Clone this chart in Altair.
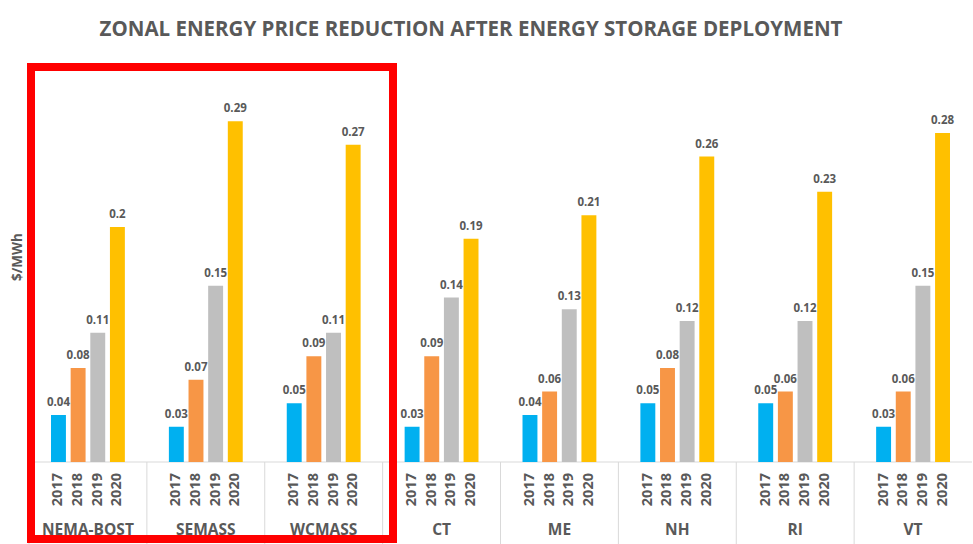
import altair as alt
import pandas as pd

zones = ["NEMA-BOST", "SEMASS", "WCMASS", "CT", "ME", "NH", "RI", "VT"]
years = ["2017", "2018", "2019", "2020"]
v2017 = [0.04, 0.03, 0.05, 0.03, 0.04, 0.05, 0.05, 0.03]
v2018 = [0.08, 0.07, 0.09, 0.09, 0.06, 0.08, 0.06, 0.06]
v2019 = [0.11, 0.15, 0.11, 0.14, 0.13, 0.12, 0.12, 0.15]
v2020 = [0.2, 0.29, 0.27, 0.19, 0.21, 0.26, 0.23, 0.28]
year_colors = ["#00B0F0", "#F79646", "#BFBFBF", "#FFC000"]

title_text = "ZONAL ENERGY PRICE REDUCTION AFTER ENERGY STORAGE DEPLOYMENT"
y_title = "$/MWh"

# each zone gets six slots: a margin slot, the four years, a margin slot
slots = ["L"] + years + ["R"]
slot_domain = [f"{z}|{s}" for z in zones for s in slots]

series = dict(zip(years, [v2017, v2018, v2019, v2020]))
rows = []
for yr in years:
    for z, v in zip(zones, series[yr]):
        rows.append({"zone": z, "year": yr, "amount": v, "slot": f"{z}|{yr}"})
df = pd.DataFrame(rows)
zone_df = pd.DataFrame({
    "zone": zones,
    "edge": [f"{z}|L" for z in zones],
    "mid": [f"{z}|{years[2]}" for z in zones],
})
one = pd.DataFrame({"k": [0]})

W, H = 943, 376
GRAY = "#595959"
FONT = "Open Sans"

x_scale = alt.Scale(domain=slot_domain, paddingInner=0, paddingOuter=0)
y_enc = alt.Y("amount:Q", axis=None, scale=alt.Scale(domain=[0, 0.32]))
x_bar = alt.X("slot:N", scale=x_scale, axis=None)

bars = alt.Chart(df).mark_bar(width=alt.RelativeBandSize(0.76)).encode(
    x=x_bar, y=y_enc,
    color=alt.Color("year:N", scale=alt.Scale(domain=years, range=year_colors),
                    legend=None),
)

values = alt.Chart(df).mark_text(
    dy=-9, baseline="alphabetic", font=FONT, fontSize=11.5,
    fontWeight="bold", color=GRAY,
).encode(x=x_bar, y=y_enc, text=alt.Text("amount:Q"))

year_labels = alt.Chart(df).mark_text(
    angle=270, align="right", baseline="middle", font=FONT, fontSize=14.5,
    fontWeight="bold", color=GRAY,
).encode(x=x_bar, text="year:N", y=alt.value(H + 11))

zone_labels = alt.Chart(zone_df).mark_text(
    baseline="middle", font=FONT, fontSize=15.5, fontWeight="bold", color=GRAY,
).encode(
    x=alt.X("mid:N", scale=x_scale, axis=None, bandPosition=0),
    text="zone:N", y=alt.value(H + 68),
)

# category separators below the baseline, at the left edge of each zone
dividers = alt.Chart(zone_df).mark_rule(color="#D9D9D9", strokeWidth=1).encode(
    x=alt.X("edge:N", scale=x_scale, axis=None, bandPosition=0),
    y=alt.value(H), y2=alt.value(H + 82),
)

# zero line along the bottom of the plot
baseline = alt.Chart(one).mark_rule(color="#D9D9D9", strokeWidth=1).encode(
    x=alt.value(0), x2=alt.value(W), y=alt.value(H)
)

highlight = alt.Chart(one).mark_rect(
    fillOpacity=0, stroke="#FF0000", strokeWidth=8,
).encode(
    x=alt.value(2), x2=alt.value(364), y=alt.value(-19), y2=alt.value(453)
)

ytitle = alt.Chart(one).mark_text(
    angle=270, align="center", baseline="middle", font=FONT, fontSize=13.5,
    fontWeight="bold", color=GRAY,
).encode(x=alt.value(-11), y=alt.value(171), text=alt.value(y_title))

title = alt.Chart(one).mark_text(
    align="center", baseline="middle", font=FONT, fontSize=20.5,
    fontWeight="bold", color=GRAY,
).encode(x=alt.value(442), y=alt.value(-56), text=alt.value(title_text))

chart = alt.layer(
    baseline, dividers, bars, values, year_labels, zone_labels,
    highlight, ytitle, title,
).properties(
    width=W, height=H,
    autosize="none",
    padding={"left": 29, "top": 86, "right": 1, "bottom": 82},
    background="white",
).configure_view(strokeOpacity=0)

chart.save("out.html", embed_options={"renderer": "svg", "actions": False})
